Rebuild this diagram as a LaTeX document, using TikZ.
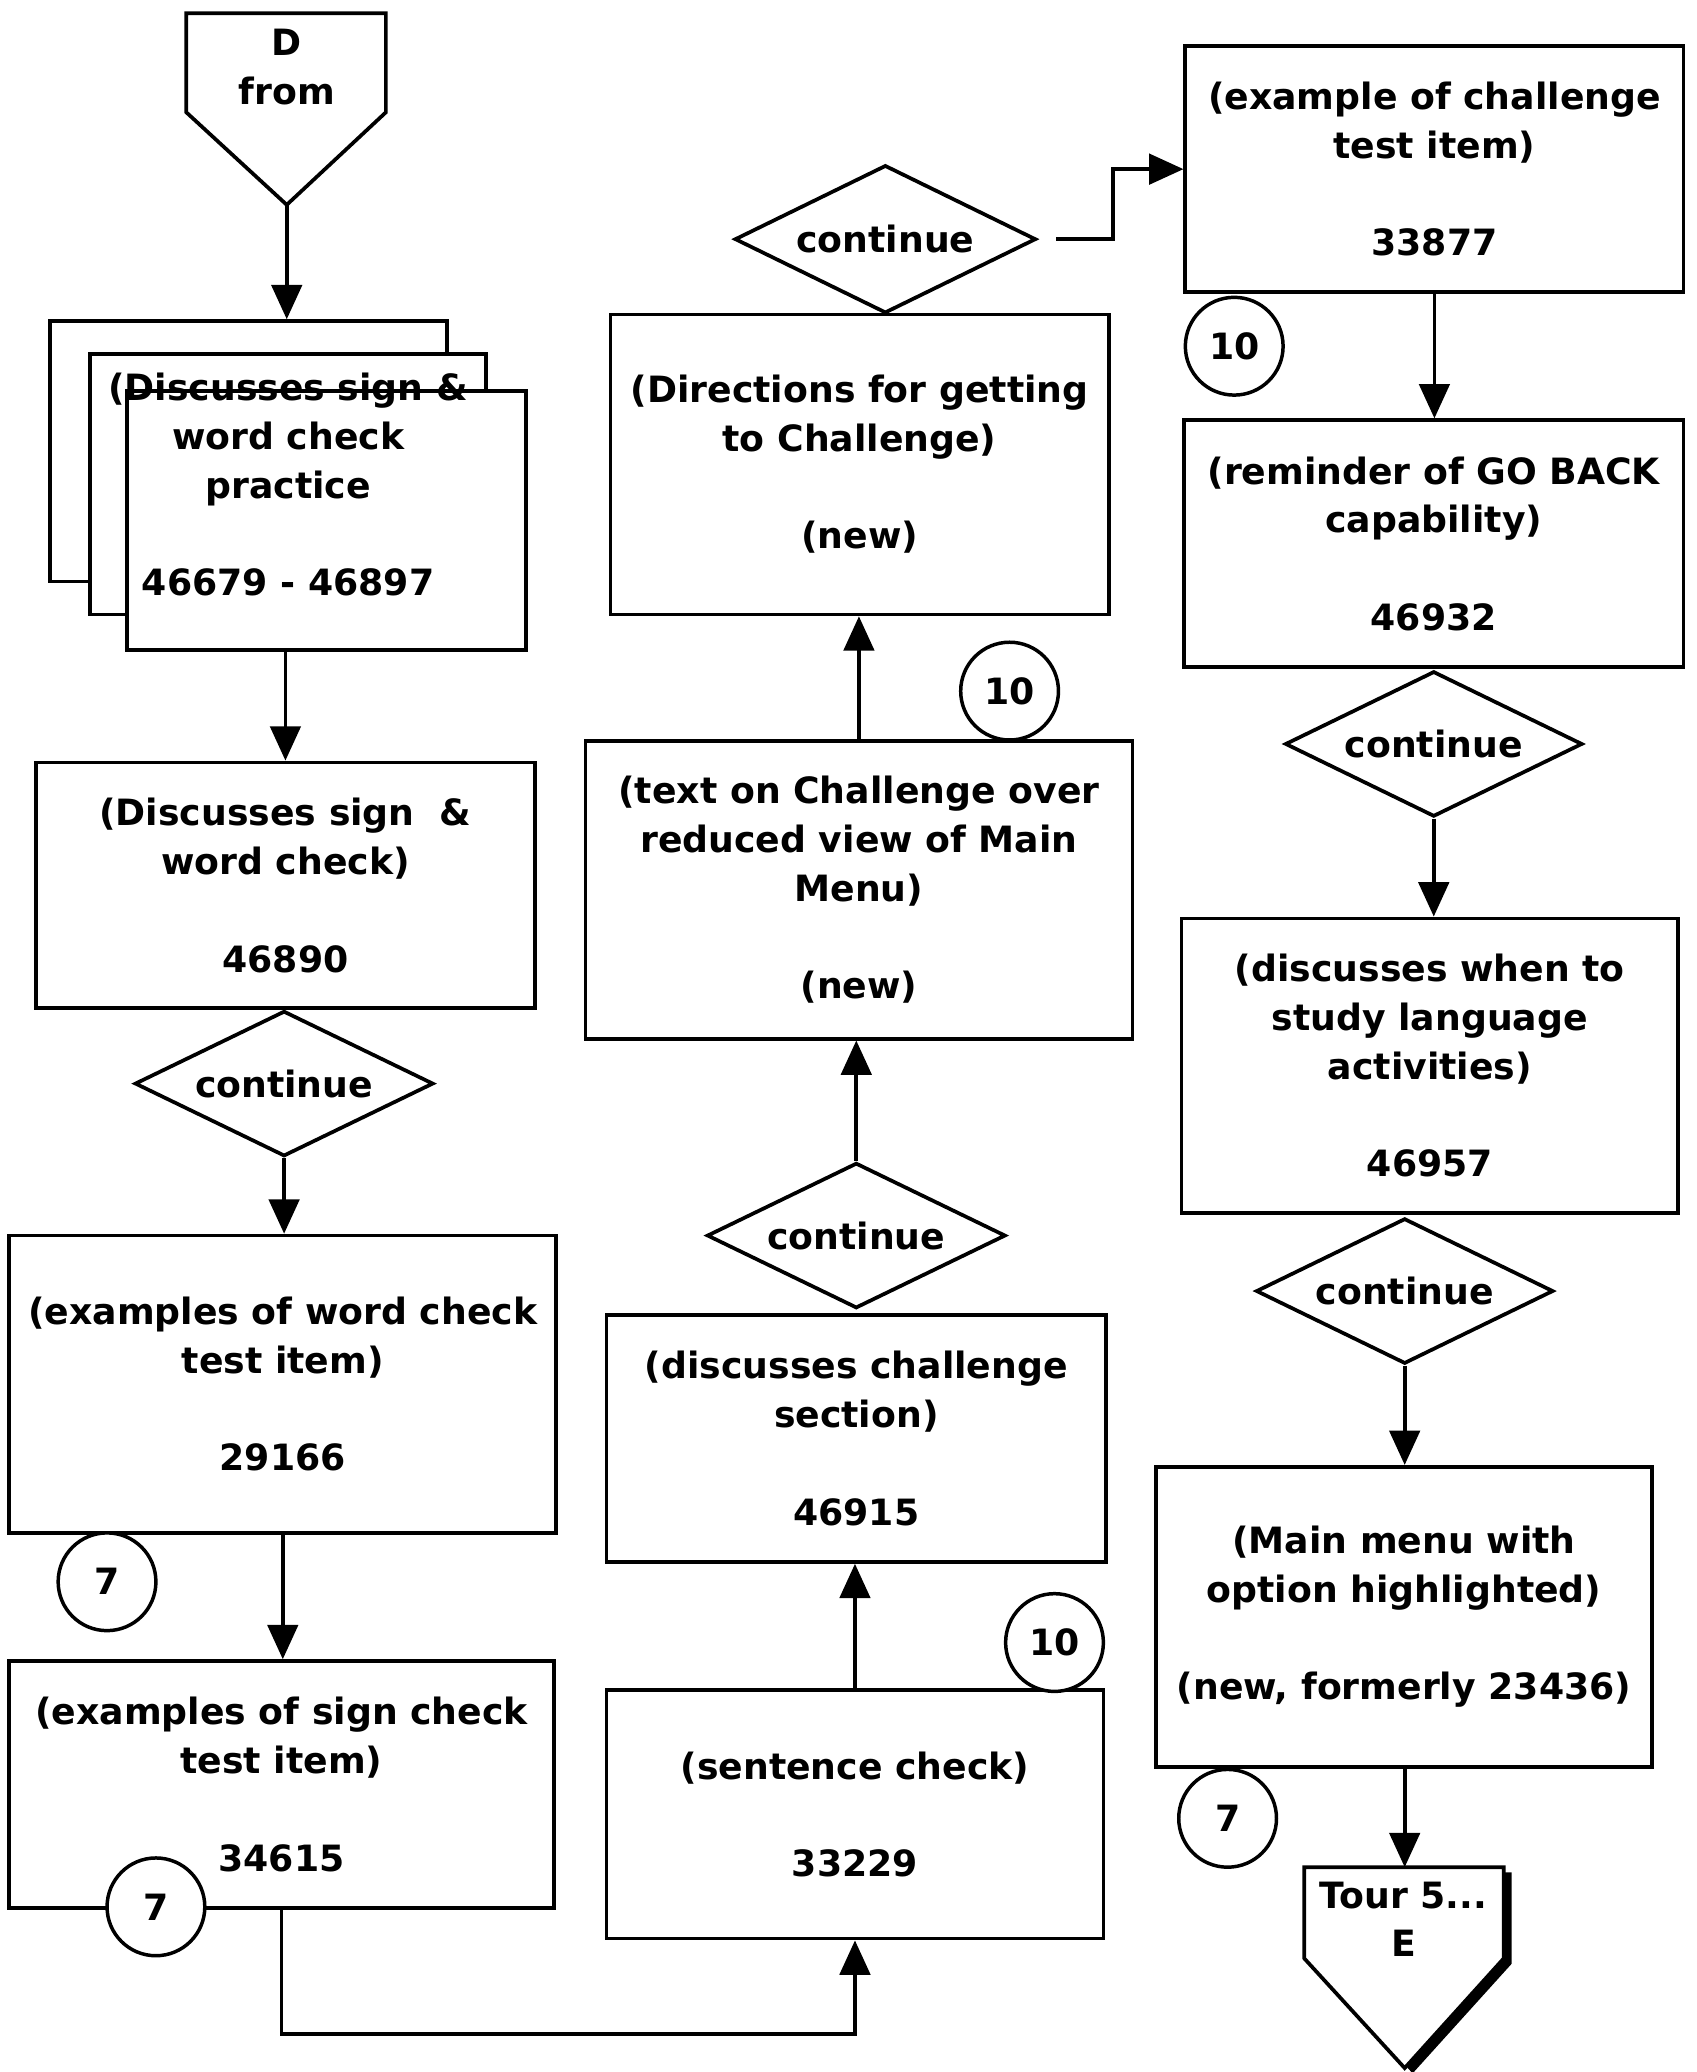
\documentclass[tikz,border=0pt]{standalone}
\usepackage{fontspec}
\setmainfont{DejaVu Sans}
\usetikzlibrary{shapes.geometric,arrows.meta,calc}

\begin{document}
\begin{tikzpicture}[x=0.02cm,y=-0.02cm,
  every node/.style={font=\bfseries\fontsize{15.6}{21}\selectfont},
  sz/.style 2 args={minimum width=#1*0.02cm, minimum height=#2*0.02cm},
  card/.style={draw, line width=1.6pt, fill=white, align=center, inner sep=0pt},
  choice/.style={diamond, draw, line width=1.6pt, fill=white, inner sep=0pt, aspect=2},
  ref/.style={circle, draw, line width=1.5pt, fill=white, minimum size=1.48cm, inner sep=0pt},
  flow/.style={line width=1.6pt, -{Triangle[width=0.46cm,length=0.52cm]}},
  link/.style={line width=1.6pt, line join=miter}
]
\useasboundingbox (0,0) rectangle (1284,1568);
\fill[white] (0,0) rectangle (1284,1568);

% entry connector D
\coordinate (dtip) at (217,155);
\draw[link, fill=white] (141,10) -- (292,10) -- (292,85) -- (dtip) -- (141,85) -- cycle;
\node[align=center] (dlabel) at (217,50.5) {D\\from};

% stack of practice screens
\node[card, sz={300}{197}] (back) at (188,341.5) {};
\node[card, sz={300}{197}] (mid) at (218,366.5) {};
\node[card, sz={302}{196}] (front) at (247,394) {};
\node[align=center] (practice) at (218,367) {(Discusses sign \&\\word check\\practice\\[21pt]46679 - 46897};

% left column
\node[card, sz={378}{186}] (b46890) at (216,670) {(Discusses sign \ \&\\word check)\\[21pt]46890};
\node[choice, sz={226}{110}] (c2) at (215,820) {continue};
\node[card, sz={414}{225}] (wc) at (214,1047.5) {(examples of word check\\test item)\\[21pt]29166};
\node[card, sz={412}{187}] (sg) at (213,1350.5) {(examples of sign check\\test item)\\[21pt]34615};

% middle column
\node[card, sz={376}{188}] (sent) at (647,1373) {(sentence check)\\[21pt]33229};
\node[card, sz={378}{187}] (dch) at (648,1088.5) {(discusses challenge\\section)\\[21pt]46915};
\node[choice, sz={226}{110}] (c3) at (648,935) {continue};
\node[card, sz={414}{225}] (toc) at (650,673.5) {(text on Challenge over\\reduced view of Main\\Menu)\\[21pt](new)};
\node[card, sz={377}{227}] (dir) at (650.5,351.5) {(Directions for getting\\to Challenge)\\[21pt](new)};
\node[choice, sz={228}{112}] (c1) at (670,181) {continue};

% right column
\node[card, sz={377}{186}] (ex) at (1085.5,128) {(example of challenge\\test item)\\[21pt]33877};
\node[card, sz={378}{187}] (rem) at (1085,411.5) {(reminder of GO BACK\\capability)\\[21pt]46932};
\node[choice, sz={225}{110}] (c4) at (1085,563) {continue};
\node[card, sz={376}{223}] (when) at (1082,806.5) {(discusses when to\\study language\\activities)\\[21pt]46957};
\node[choice, sz={225}{110}] (c5) at (1063,977) {continue};
\node[card, sz={375}{227}] (mm) at (1062.5,1223.5) {(Main menu with\\option highlighted)\\[21pt](new, formerly 23436)};

% exit connector E with its shadow
\coordinate (ttop) at (1063,1413);
\begin{scope}[shift={(6,4)}]
  \fill (987,1413) -- (1138,1413) -- (1138,1482) -- (1063,1565) -- (987,1482) -- cycle;
\end{scope}
\draw[link, fill=white] (987,1413) -- (1138,1413) -- (1138,1482) -- (1063,1565) -- (987,1482) -- cycle;
\node[align=center] (tour) at (1062,1452.5) {Tour 5...\\E};

% connectors, kept vertical
\draw[flow] (dtip) -- (dtip |- back.north);
\draw[flow] (b46890.north |- front.south) -- (b46890.north);
\draw[flow] (c2.south) -- (c2.south |- wc.north);
\draw[flow] (wc.south) -- (wc.south |- sg.north);
\draw[flow] (sg.south) -- ++(0,94) -| (sent.south);
\draw[flow] (sent.north) -- (sent.north |- dch.south);
\draw[flow] (c3.north) -- (c3.north |- toc.south);
\draw[flow] (toc.north) -- (toc.north |- dir.south);
\draw[flow, shorten <=0.28cm] (c1.east) -- ++(57,0) |- (ex.west);
\draw[flow] (ex.south) -- (ex.south |- rem.north);
\draw[flow] (c4.south) -- (c4.south |- when.north);
\draw[flow] (c5.south) -- (c5.south |- mm.north);
\draw[flow] (mm.south -| ttop) -- (ttop);

% cross-reference circles
\node[ref] (r7a) at (81,1197) {7};
\node[ref] (r7b) at (118,1443) {7};
\node[ref] (r10a) at (798,1243) {10};
\node[ref] (r10b) at (764,523) {10};
\node[ref] (r10c) at (934,262) {10};
\node[ref] (r7c) at (929,1376) {7};
\end{tikzpicture}
\end{document}
